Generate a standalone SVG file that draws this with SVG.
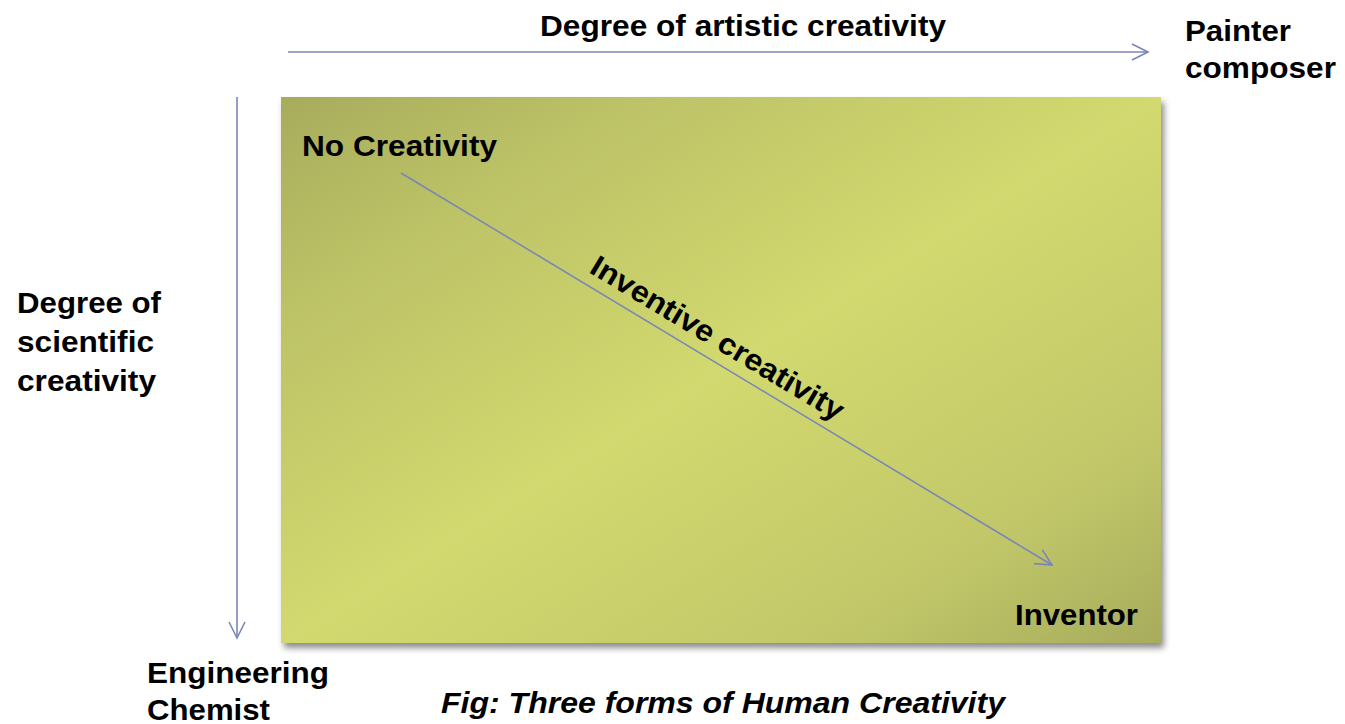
<svg xmlns="http://www.w3.org/2000/svg" width="1345" height="724" viewBox="0 0 1345 724">
<style>
  .t { font-family: "Liberation Sans", Arial, sans-serif; font-weight: bold; font-size: 30px; fill: #000; }
  .conn { stroke: #7a86b8; stroke-width: 1.6; fill: none; }
</style>
<defs>
  <linearGradient id="bg" x1="0" y1="0" x2="1" y2="1">
    <stop offset="0" stop-color="#a7ac5c"/>
    <stop offset="0.2" stop-color="#bcc266"/>
    <stop offset="0.5" stop-color="#d2d96f"/>
    <stop offset="0.8" stop-color="#c2c869"/>
    <stop offset="1" stop-color="#a7ac5d"/>
  </linearGradient>
  <filter id="sh" x="-5%" y="-5%" width="112%" height="115%">
    <feDropShadow dx="3" dy="5" stdDeviation="3" flood-color="#000" flood-opacity="0.45"/>
  </filter>
  <marker id="arr" markerWidth="20" markerHeight="20" refX="18" refY="10" orient="auto" markerUnits="userSpaceOnUse">
    <path d="M2,2 L18,10 L2,18" stroke="#7a86b8" stroke-width="1.6" fill="none"/>
  </marker>
</defs>
<rect width="1345" height="724" fill="#fff"/>
<g id="matrix">
  <rect x="281" y="97" width="880" height="546" fill="url(#bg)" filter="url(#sh)"/>
</g>
<g id="connectors">
  <line class="conn" x1="288" y1="52" x2="1148" y2="52" marker-end="url(#arr)"/>
  <line class="conn" x1="237" y1="97" x2="237" y2="638" marker-end="url(#arr)"/>
  <line class="conn" x1="401" y1="173" x2="1052" y2="565" marker-end="url(#arr)"/>
</g>
<g id="artistic-axis">
  <text class="t" x="540" y="36" textLength="406" lengthAdjust="spacingAndGlyphs">Degree of artistic creativity</text>
</g>
<g id="painter">
  <text class="t" x="1185" y="41" textLength="106" lengthAdjust="spacingAndGlyphs">Painter</text>
  <text class="t" x="1185" y="78" textLength="151" lengthAdjust="spacingAndGlyphs">composer</text>
</g>
<g id="scientific-axis">
  <text class="t" x="17" y="313" textLength="144" lengthAdjust="spacingAndGlyphs">Degree of</text>
  <text class="t" x="17" y="352" textLength="137" lengthAdjust="spacingAndGlyphs">scientific</text>
  <text class="t" x="17" y="391" textLength="139" lengthAdjust="spacingAndGlyphs">creativity</text>
</g>
<g id="engineering">
  <text class="t" x="147" y="683" textLength="182" lengthAdjust="spacingAndGlyphs">Engineering</text>
  <text class="t" x="147" y="720" textLength="123" lengthAdjust="spacingAndGlyphs">Chemist</text>
</g>
<g id="no-creativity">
  <text class="t" x="302" y="156" textLength="195" lengthAdjust="spacingAndGlyphs">No Creativity</text>
</g>
<g id="inventive">
  <text class="t" transform="translate(588,272) rotate(31)" textLength="290" lengthAdjust="spacingAndGlyphs">Inventive creativity</text>
</g>
<g id="inventor">
  <text class="t" x="1015" y="625" textLength="123" lengthAdjust="spacingAndGlyphs">Inventor</text>
</g>
<g id="caption">
  <text class="t" x="441" y="713" font-style="italic" textLength="564" lengthAdjust="spacingAndGlyphs">Fig: Three forms of Human Creativity</text>
</g>
</svg>
